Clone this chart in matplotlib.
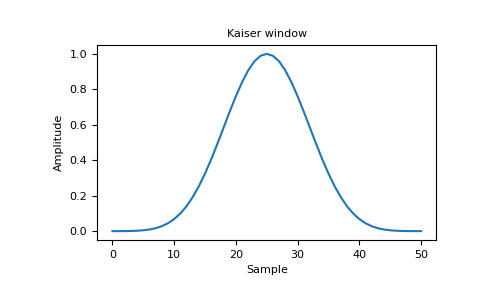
import matplotlib
matplotlib.use("Agg")
import matplotlib.pyplot as plt

# Kaiser window samples (symmetric about sample 25)
samples = list(range(51))
half = [0.000001, 0.00008, 0.00032, 0.00093, 0.0022, 0.0048, 0.0092, 0.0165,
        0.0279, 0.0446, 0.068, 0.0996, 0.140, 0.192, 0.253, 0.325, 0.405,
        0.492, 0.583, 0.674, 0.761, 0.840, 0.907, 0.958, 0.989]
amplitude = half + [1.0] + half[::-1]

plt.rcParams["font.size"] = 8

fig = plt.figure(figsize=(4.85, 3.0), dpi=100)
ax = fig.add_subplot(111)
fig.subplots_adjust(left=0.2, right=0.9, bottom=0.2, top=0.85)

ax.plot(samples, amplitude)
ax.set_title("Kaiser window", fontsize=8)
ax.set_ylabel("Amplitude")
ax.set_xlabel("Sample")

fig.savefig("out.png", dpi=100)
